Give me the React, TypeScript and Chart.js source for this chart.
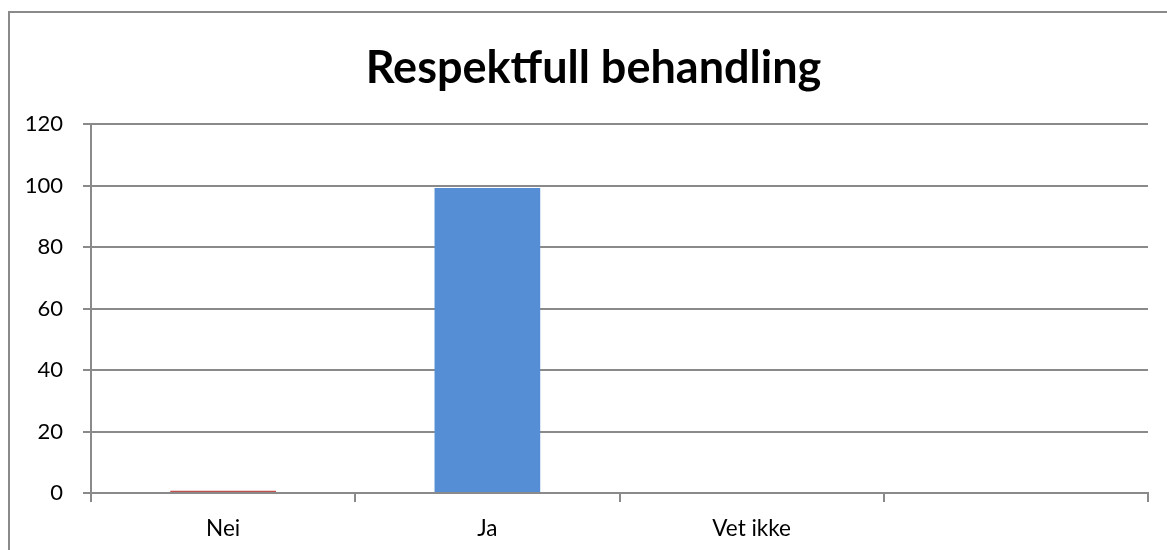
import React, { useEffect, useRef } from "react";
import { Chart, registerables } from "chart.js";

Chart.register(...registerables);

const categories = ["Nei", "Ja", "Vet ikke", ""];
const values = [0.7, 99.2, 0, 0];
const barColors = ["#C0504D", "#558ED5", "#9BBB59", "#8064A2"];
const yTicks = [0, 20, 40, 60, 80, 100, 120];
const titleText = "Respektfull behandling";

const FONT = "Lato, 'Open Sans', sans-serif";
const GRID = "#8a8a8a";
const CANVAS_W = 1187;

export default function App() {
  const ref = useRef<HTMLCanvasElement | null>(null);

  useEffect(() => {
    if (!ref.current) return;
    const chart = new Chart(ref.current, {
      type: "bar",
      data: {
        labels: categories,
        datasets: [
          {
            data: values,
            backgroundColor: barColors,
            borderWidth: 0,
            categoryPercentage: 0.4,
            barPercentage: 1,
          },
        ],
      },
      options: {
        animation: false,
        responsive: false,
        maintainAspectRatio: false,
        layout: { padding: 0 },
        plugins: {
          legend: { display: false },
          tooltip: { enabled: false },
          title: {
            display: true,
            text: titleText,
            color: "#000",
            font: { family: FONT, size: 45, weight: "bold", lineHeight: 1.2 },
            padding: { top: 41, bottom: 29 },
          },
        },
        scales: {
          x: {
            offset: true,
            afterFit: (s: any) => {
              s.height = 57;
            },
            grid: {
              offset: true,
              drawOnChartArea: false,
              drawTicks: true,
              tickLength: 9,
              color: GRID,
              lineWidth: 2,
            },
            border: { display: true, color: GRID, width: 2 },
            ticks: {
              color: "#000",
              font: { family: FONT, size: 22.5 },
              padding: 13,
              maxRotation: 0,
            },
          },
          y: {
            min: 0,
            max: 120,
            afterFit: (s: any) => {
              s.width = 91;
            },
            afterBuildTicks: (s: any) => {
              s.ticks = yTicks.map((v) => ({ value: v }));
            },
            grid: {
              color: GRID,
              lineWidth: 2,
              tickLength: 8,
              drawTicks: true,
            },
            border: { display: true, color: GRID, width: 2 },
            ticks: {
              color: "#000",
              font: { family: FONT, size: 22 },
              padding: 20,
            },
          },
          yRightSpace: {
            position: "right",
            min: 0,
            max: 120,
            afterFit: (s: any) => {
              s.width = 39;
            },
            grid: { drawOnChartArea: false, drawTicks: false, display: false },
            border: { display: false },
            ticks: { display: false },
          },
        },
      },
    });
    return () => chart.destroy();
  }, []);

  return (
    <div
      style={{
        position: "fixed",
        left: 0,
        top: 0,
        width: 1167,
        height: 550,
        overflow: "hidden",
        background: "#fff",
      }}
    >
      <div
        style={{
          position: "absolute",
          left: 8,
          top: 11,
          width: 1300,
          height: 700,
          border: "2px solid #8a8a8a",
        }}
      />
      <canvas
        ref={ref}
        width={CANVAS_W}
        height={550}
        style={{ position: "absolute", left: 0, top: 0, width: CANVAS_W, height: 550 }}
      />
    </div>
  );
}
